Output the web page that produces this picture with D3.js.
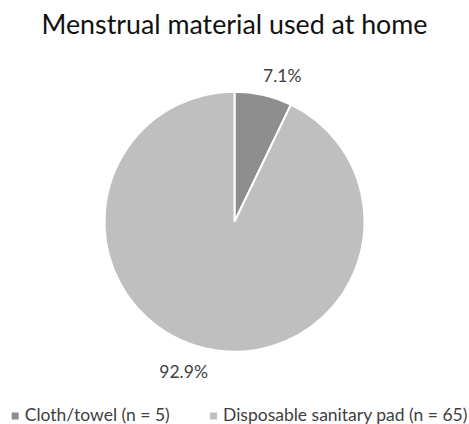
<!DOCTYPE html>
<html>
<head>
<meta charset="utf-8">
<script src="https://cdn.jsdelivr.net/npm/d3@7"></script>
<style>
  body { margin: 0; background: #fff; }
  text { font-family: Lato, "Open Sans", sans-serif; }
</style>
</head>
<body>
<script>
const categories = ["Cloth/towel (n = 5)", "Disposable sanitary pad (n = 65)"];
const values = [5, 65];
const pctLabels = ["7.1%", "92.9%"];
const colors = ["#8e8e8e", "#bfbfbf"];

const width = 469, height = 424;
const cx = 234.5, cy = 221.7, r = 130;

const svg = d3.select("body").append("svg")
  .attr("width", width)
  .attr("height", height);

svg.append("text")
  .attr("x", 234.5)
  .attr("y", 34)
  .attr("text-anchor", "middle")
  .attr("font-size", 26.8)
  .attr("fill", "#111")
  .text("Menstrual material used at home");

const pie = d3.pie().sort(null).value(d => d)(values);
const arc = d3.arc().innerRadius(0).outerRadius(r);

const g = svg.append("g").attr("transform", `translate(${cx},${cy})`);

g.selectAll("path")
  .data(pie)
  .enter().append("path")
    .attr("d", arc)
    .attr("fill", (d, i) => colors[i])
    .attr("stroke", "#fff")
    .attr("stroke-width", 2);

// outside-end labels: nearest corner of the label sits on the mid-angle ray
const lr = r + 12;
g.selectAll("text.lbl")
  .data(pie)
  .enter().append("text")
    .attr("class", "lbl")
    .each(function(d, i) {
      const a = (d.startAngle + d.endAngle) / 2;
      const x = Math.sin(a) * lr, y = -Math.cos(a) * lr;
      d3.select(this)
        .attr("x", x + (Math.sin(a) >= 0 ? -3 : 5))
        .attr("y", y)
        .attr("text-anchor", Math.sin(a) >= 0 ? "start" : "end")
        .attr("dy", Math.cos(a) >= 0 ? "-0.1em" : "1.0em");
    })
    .attr("font-size", 17.5)
    .attr("fill", "#404040")
    .text((d, i) => pctLabels[i]);

// legend
const legX = [11.7, 210];
const leg = svg.selectAll("g.leg")
  .data(categories)
  .enter().append("g")
    .attr("class", "leg")
    .attr("transform", (d, i) => `translate(${legX[i]},421)`);
leg.append("rect")
  .attr("x", 0).attr("y", -8.5)
  .attr("width", 7).attr("height", 7)
  .attr("fill", (d, i) => colors[i]);
leg.append("text")
  .attr("x", 13)
  .attr("y", 0)
  .attr("font-size", 17.5)
  .attr("fill", "#404040")
  .text(d => d);
</script>
</body>
</html>
